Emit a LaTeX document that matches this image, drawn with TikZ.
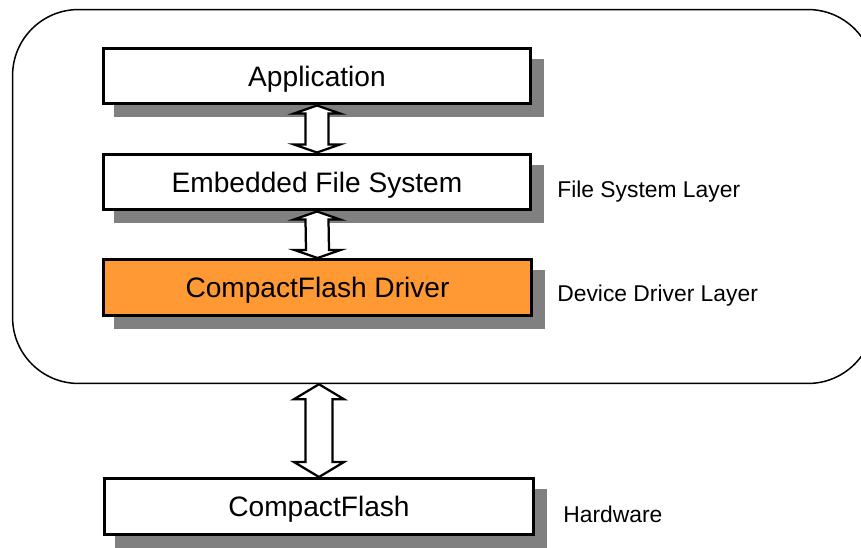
\documentclass[tikz,border=0pt]{standalone}
\usepackage{fontspec}
\setmainfont{Liberation Sans}
\usetikzlibrary{calc,shadows}

\definecolor{driverorange}{RGB}{255,153,51}
\definecolor{shadowgray}{RGB}{128,128,128}

\begin{document}
\begin{tikzpicture}[
    x=0.02cm, y=-0.02cm,
    layer/.style={
        rectangle,
        draw,
        line width=0.06cm,
        fill=white,
        minimum width=8.56cm,
        minimum height=1.12cm,
        text depth=0pt,
        font=\fontsize{16pt}{19pt}\selectfont,
        drop shadow={shadow xshift=0.24cm, shadow yshift=-0.24cm,
            fill=shadowgray, draw=shadowgray, opacity=1}
    },
    note/.style={
        anchor=west,
        inner sep=0pt,
        text depth=0pt,
        font=\fontsize{13pt}{16pt}\selectfont
    },
    updown/.style={line width=0.045cm, fill=white, line join=miter}
]
    \useasboundingbox (0, 0) rectangle (861, 547);

    \node[
        draw,
        line width=0.03cm,
        rounded corners=1.32cm,
        minimum width=17.23cm,
        minimum height=7.48cm
    ] (system) at (443.25, 196.5) {};

    \node[layer] (app) at (317, 76) {Application};
    \node[layer] (efs) at (317, 182) {Embedded File System};
    \node[layer, fill=driverorange] (driver) at (317.5, 287.5) {CompactFlash Driver};
    \node[layer, minimum width=8.6cm] (cf) at (319, 506.5) {CompactFlash};

    \node[note] (fslabel) at (557, 189) {File System Layer};
    \node[note] (ddlabel) at (557, 293) {Device Driver Layer};
    \node[note] (hwlabel) at (563, 514) {Hardware};

    \draw[updown] (app.south) -- ++(23, 8) -- ++(-11.5, 0)
        -- ($(efs.north) + (11.5, -8)$) -- ++(11.5, 0) -- (efs.north)
        -- ++(-23, -8) -- ++(11.5, 0)
        -- ($(app.south) + (-11.5, 8)$) -- ++(-11.5, 0) -- cycle;
    \draw[updown] (efs.south) -- ++(23, 8) -- ++(-11.5, 0)
        -- ($(driver.north) + (11.5, -8)$) -- ++(11.5, 0) -- (driver.north)
        -- ++(-23, -8) -- ++(11.5, 0)
        -- ($(efs.south) + (-11.5, 8)$) -- ++(-11.5, 0) -- cycle;

    \coordinate (bustop) at (system.south -| cf.north);
    \draw[updown] (bustop) -- ++(25, 15) -- ++(-11.5, 0)
        -- ($(cf.north) + (13.5, -15)$) -- ++(11.5, 0) -- (cf.north)
        -- ++(-25, -15) -- ++(11.5, 0)
        -- ($(bustop) + (-13.5, 15)$) -- ++(-11.5, 0) -- cycle;
\end{tikzpicture}
\end{document}
